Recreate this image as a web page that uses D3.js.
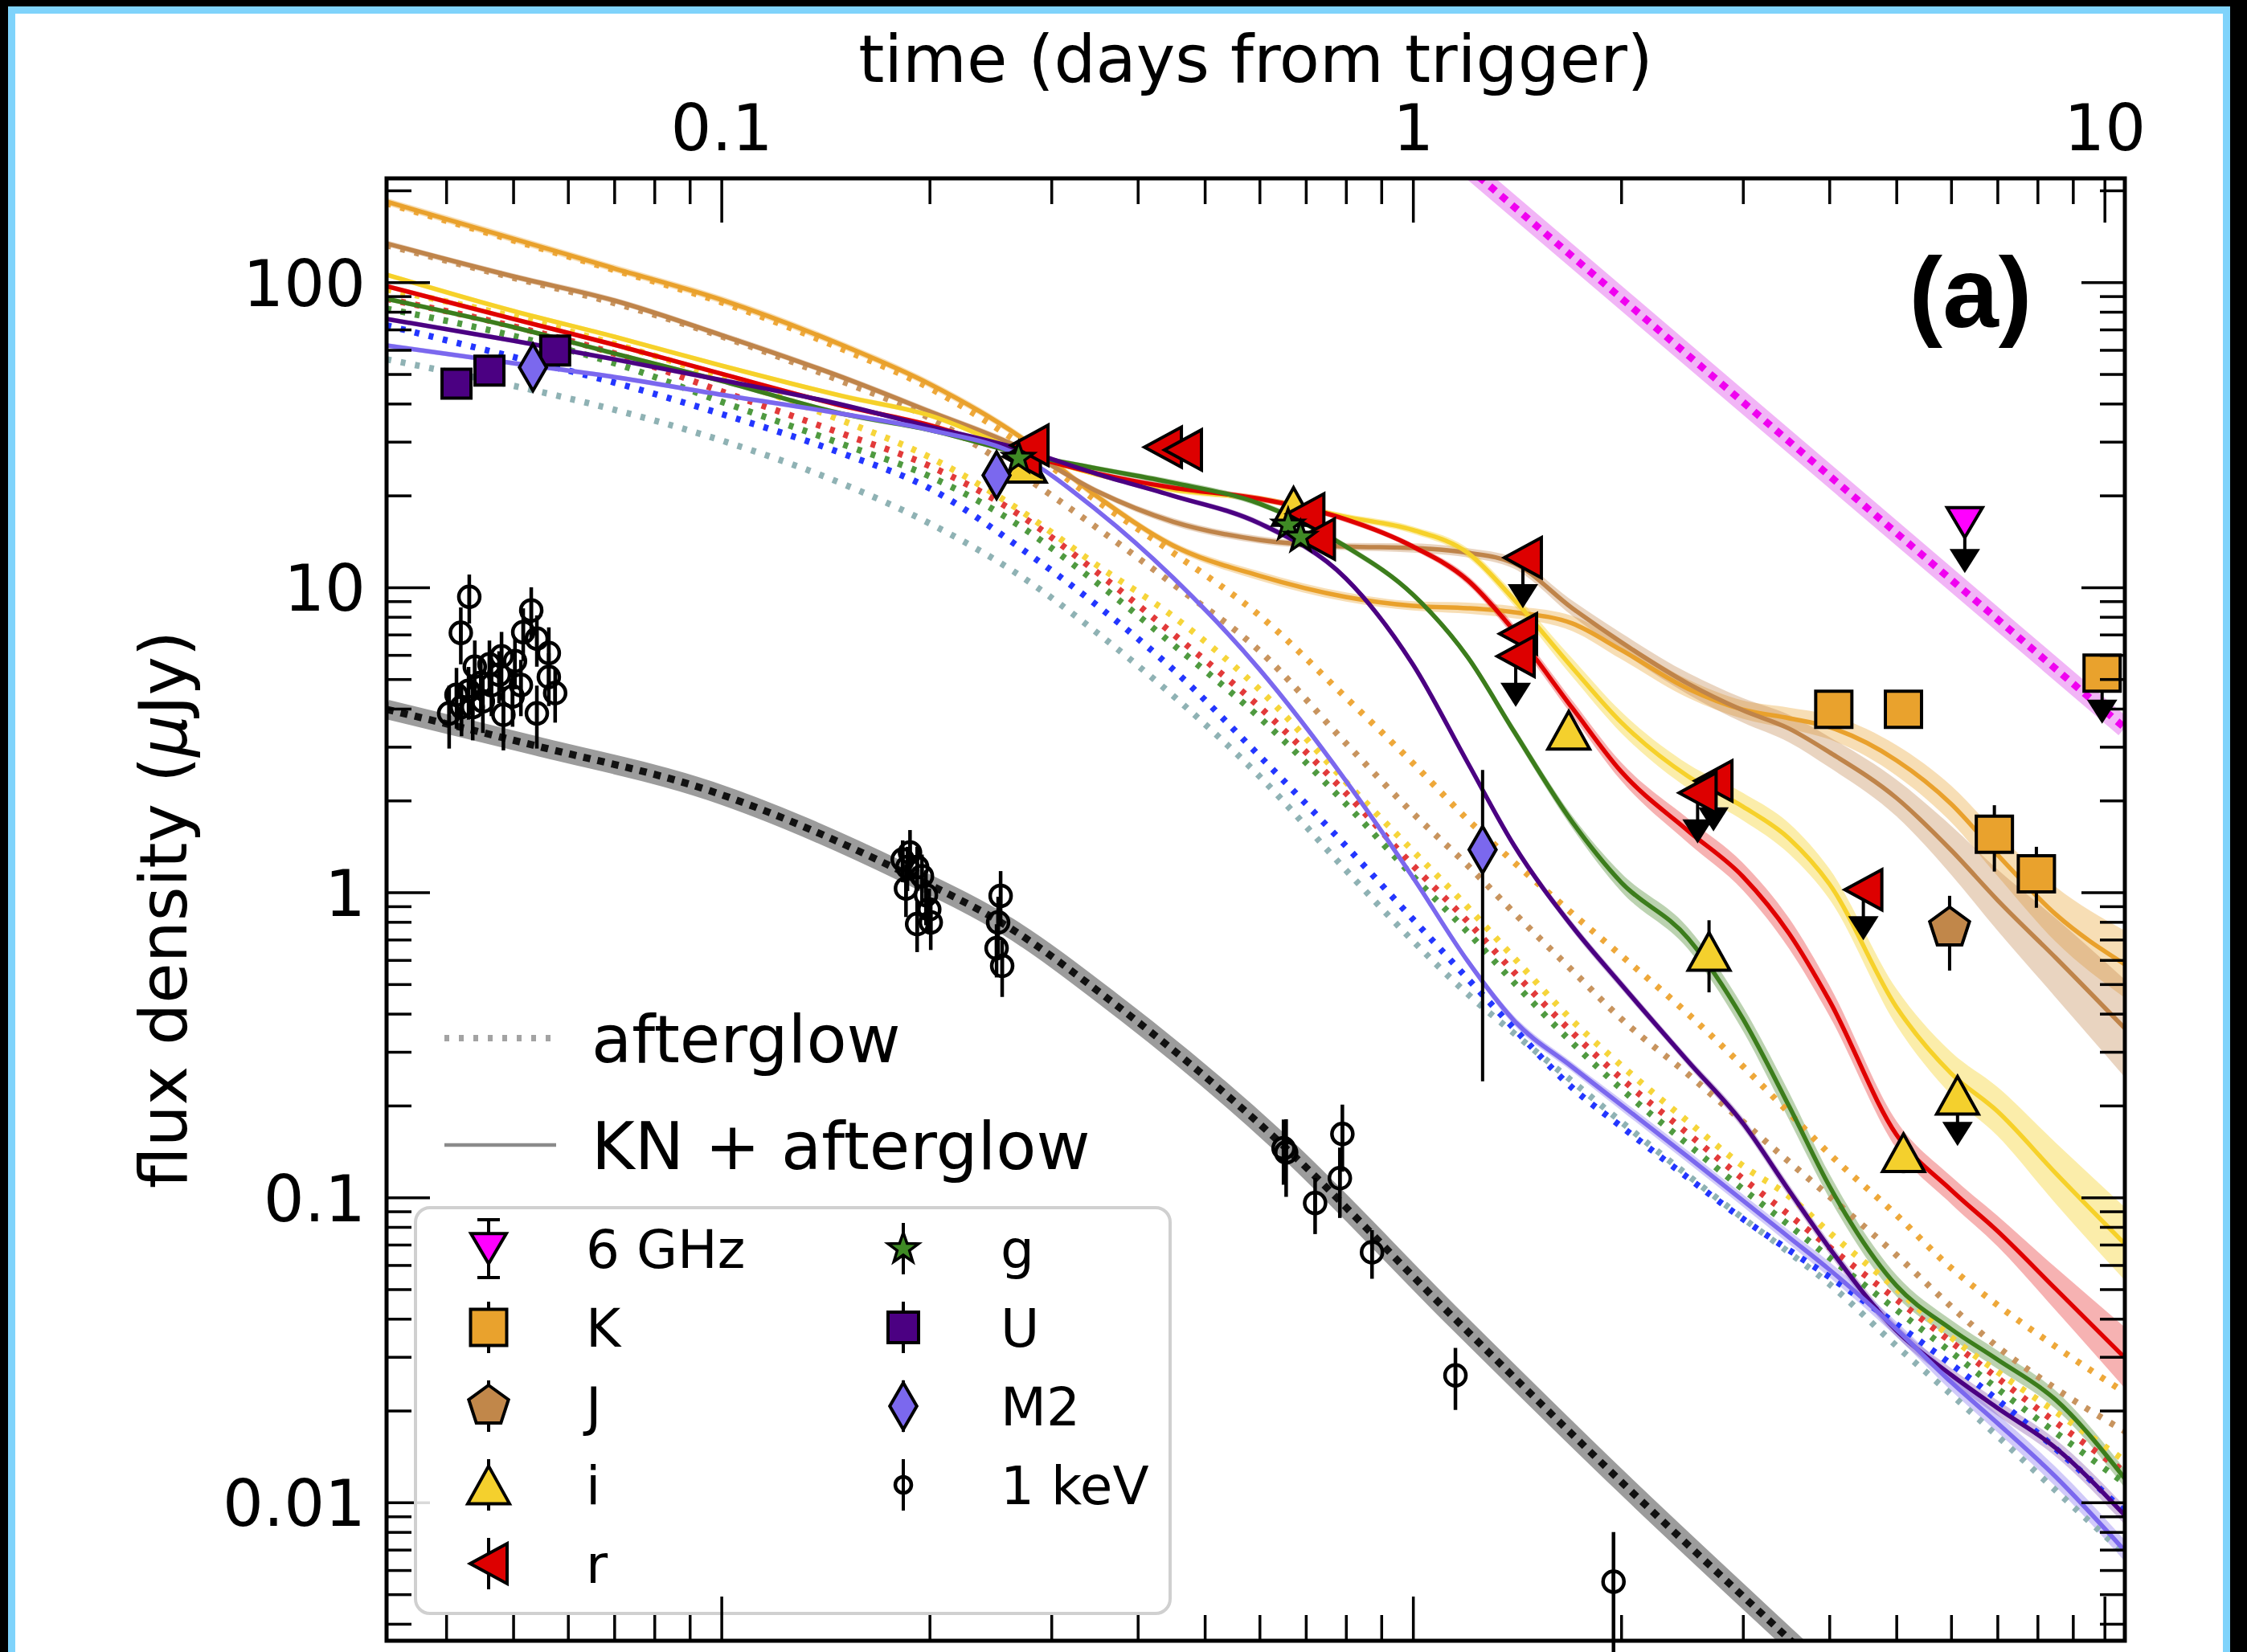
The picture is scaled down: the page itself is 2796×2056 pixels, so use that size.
<!DOCTYPE html>
<html><head><meta charset="utf-8">
<script src="https://cdn.jsdelivr.net/npm/d3@7"></script>
<style>html,body{margin:0;padding:0;background:#000;}svg{display:block;}</style>
</head><body>
<svg id="chart" width="2796" height="2056"></svg>
<script>
// ================= DATA =================
// time grid (days) on which the model curves were read
const modelTimes = [0.0328,0.05,0.07,0.1,0.15,0.2,0.27,0.35,0.45,0.6,0.8,1.0,1.2,1.4,1.7,2.0,2.5,3.0,3.5,4.0,5.0,6.0,7.0,8.5,10.7];

// KN + afterglow models (solid lines), flux density in microJy
const knK  = [183.7,138.9,111.0,87.6,62.0,46.4,31.2,19.8,13.7,10.9,9.29,8.69,8.54,8.28,7.61,6.23,4.65,3.97,3.72,3.48,2.71,1.95,1.33,0.847,0.581];
const knJ  = [134.0,104.5,87.1,67.1,48.7,37.7,28.7,20.6,16.4,14.3,13.6,13.45,12.97,11.99,8.54,6.61,4.83,3.95,3.44,2.88,2.04,1.375,0.944,0.610,0.358];
const knI  = [105.8,80.5,66.3,53.3,42.3,36.6,28.0,23.4,20.9,19.5,17.0,15.4,12.97,9.12,5.45,3.61,2.40,1.91,1.50,1.066,0.421,0.255,0.1915,0.120,0.0704];
const knR  = [97.1,75.8,62.4,50.1,39.3,34.0,27.5,23.6,21.2,19.5,16.7,13.6,10.55,7.20,4.02,2.49,1.59,1.126,0.732,0.442,0.1607,0.1057,0.0776,0.0501,0.0298];
const knG  = [88.2,71.3,58.4,47.5,37.0,32.8,27.5,24.5,22.0,18.8,13.6,9.46,5.90,3.37,1.70,1.079,0.706,0.385,0.1987,0.1090,0.0514,0.0370,0.0294,0.0217,0.01198];
const knU  = [75.8,64.3,55.9,47.8,39.6,33.6,28.4,23.5,19.95,16.2,10.68,5.58,2.66,1.426,0.773,0.4995,0.279,0.175,0.1051,0.0683,0.0366,0.0262,0.0204,0.01509,0.00907];
const knM2 = [62.0,54.3,48.9,42.8,37.0,32.8,27.0,17.8,10.75,5.38,2.32,1.119,0.595,0.380,0.2675,0.2010,0.1356,0.0977,0.0739,0.0580,0.0370,0.0248,0.0182,0.01213,0.00694];

// model uncertainty half-widths (dex)
const bandK  = [.012,.012,.012,.012,.012,.012,.012,.012,.012,.015,.015,.015,.018,.02,.025,.03,.03,.03,.035,.04,.05,.06,.07,.09,.11];
const bandJ  = [.01,.01,.01,.01,.01,.01,.01,.01,.012,.012,.012,.015,.015,.018,.025,.03,.035,.04,.045,.05,.06,.08,.1,.13,.16];
const bandI  = [.008,.008,.008,.008,.008,.008,.008,.008,.01,.01,.01,.012,.015,.02,.03,.035,.04,.045,.05,.05,.06,.07,.08,.1,.12];
const bandR  = [.008,.008,.008,.008,.008,.008,.008,.008,.01,.01,.01,.01,.015,.02,.025,.03,.04,.045,.05,.05,.045,.045,.05,.07,.1];
const bandG  = [.008,.008,.008,.008,.008,.008,.008,.008,.01,.01,.01,.01,.012,.015,.02,.03,.035,.04,.045,.04,.035,.03,.03,.03,.03];
const bandU  = [.008,.008,.008,.008,.008,.008,.008,.008,.008,.01,.01,.01,.01,.012,.015,.015,.015,.018,.02,.02,.02,.022,.025,.028,.03];
const bandM2 = [.008,.008,.008,.008,.008,.008,.008,.008,.01,.01,.01,.012,.012,.015,.015,.018,.02,.02,.022,.025,.025,.028,.03,.032,.035];

// afterglow-only models (dotted lines)
const agK    = [181.4,137.2,109.7,86.0,60.2,45.0,29.6,19.1,12.97,8.08,4.35,2.65,1.731,1.255,0.852,0.621,0.399,0.269,0.189,0.1389,0.0876,0.0587,0.0444,0.0324,0.0229];
const agJ    = [132.3,103.5,85.5,66.5,47.2,35.9,23.6,15.6,10.24,6.19,3.08,1.817,1.225,0.857,0.554,0.385,0.253,0.177,0.1307,0.1007,0.0647,0.0439,0.0324,0.0236,0.0171];
const agI    = [94.8,77.2,62.8,48.9,35.1,26.7,17.9,11.77,8.03,4.62,2.30,1.367,0.894,0.610,0.380,0.271,0.177,0.1268,0.1007,0.0767,0.0501,0.0348,0.0268,0.0198,0.01369];
const agR    = [88.2,71.7,58.4,43.9,31.8,24.97,17.25,11.15,7.03,4.05,2.115,1.225,0.802,0.547,0.347,0.2456,0.1616,0.1151,0.0876,0.0687,0.0463,0.0336,0.0256,0.0183,0.01258];
const agG    = [81.9,66.7,54.3,40.6,29.4,23.1,15.9,10.3,6.49,3.74,1.95,1.13,0.741,0.506,0.321,0.227,0.149,0.1064,0.0810,0.0635,0.0428,0.0311,0.0236,0.01693,0.01155];
const agU    = [72.2,56.9,46.9,37.0,27.4,21.1,13.5,8.69,5.38,2.80,1.418,0.816,0.521,0.358,0.2285,0.1708,0.1158,0.0850,0.0671,0.0549,0.0384,0.0284,0.0217,0.0150,0.00929];
const agM2   = [55.9,45.8,38.2,30.3,21.8,16.2,10.94,7.07,4.41,2.40,1.182,0.693,0.464,0.345,0.240,0.177,0.1179,0.0855,0.0659,0.0520,0.0326,0.0226,0.0165,0.01094,0.00678];

// radio (6 GHz) and X-ray (1 keV) afterglow models: [t, flux]
const radioModel = [[1.0,339],[10.7,3.46]];
const xrayModel  = [[0.0328,3.98],[0.054,3.02],[0.0964,2.15],[0.181,1.18],[0.26,0.77],[0.366,0.44],[0.631,0.157],[1.15,0.040],[2.0,0.0117],[3.52,0.00352],[4.5,0.0021]];

// observations: t (days), f (microJy), e (1-sigma), ul (upper limit)
const obs6GHz = [{t:6.28,f:16.3,ul:true}];
const obsK  = [{t:4.06,f:3.98,e:0.1},{t:5.12,f:3.98,e:0.1},{t:6.93,f:1.55,e:0.38},{t:7.97,f:1.15,e:0.26},{t:9.92,f:5.23,ul:true}];
const obsJ  = [{t:5.97,f:0.764,e:0.21}];
const obsI  = [{t:0.275,f:25.5,e:3.0},{t:0.672,f:18.4,e:1.0},{t:1.68,f:3.4,e:0.2},{t:2.68,f:0.64,e:0.17},{t:5.12,f:0.14,e:0.02},{t:6.13,f:0.216,ul:true}];
const obsR  = [{t:0.272,f:26.8,e:1},{t:0.279,f:29.2,e:1},{t:0.435,f:28.8,e:0.8},{t:0.465,f:28.2,e:0.8},{t:0.699,f:17.4,e:0.8},{t:0.724,f:14.4,e:0.8},
               {t:1.442,f:12.5,ul:true},{t:1.419,f:7.04,e:0.3},{t:1.408,f:5.94,ul:true},{t:2.72,f:2.32,ul:true},{t:2.58,f:2.12,ul:true},{t:4.48,f:1.02,ul:true}];
const obsG  = [{t:0.269,f:26.5,e:1},{t:0.66,f:16.0,e:1},{t:0.688,f:14.6,e:1}];
const obsU  = [{t:0.0414,f:46.5,e:3},{t:0.0462,f:51.3,e:3},{t:0.0575,f:59.7,e:4}];
const obsM2 = [{t:0.0534,f:52.6,e:4},{t:0.25,f:23.3,e:2},{t:1.261,f:1.38,e:1.14}];
const obsX  = [
  {t:0.0432,f:9.31,e:1.7},{t:0.0420,f:7.09,e:1.5},{t:0.0531,f:8.40,e:1.6},{t:0.0517,f:7.13,e:1.4},{t:0.0563,f:6.09,e:1.3},
  {t:0.0541,f:6.79,e:1.3},{t:0.0440,f:5.49,e:1.2},{t:0.0462,f:5.59,e:1.1},{t:0.0481,f:5.94,e:1.2},{t:0.0503,f:5.73,e:1.1},
  {t:0.0404,f:3.86,e:0.9},{t:0.0414,f:4.44,e:1.0},{t:0.0431,f:4.58,e:0.9},{t:0.0449,f:4.86,e:1.0},{t:0.0452,f:4.23,e:0.9},
  {t:0.0484,f:3.82,e:0.9},{t:0.0477,f:5.17,e:1.0},{t:0.0541,f:3.86,e:0.9},{t:0.0575,f:4.50,e:0.9},{t:0.0563,f:5.08,e:1.0},
  {t:0.0499,f:4.39,e:0.9},{t:0.0513,f:4.78,e:1.0},{t:0.0465,f:4.78,e:1.0},{t:0.0437,f:4.05,e:0.9},{t:0.0421,f:4.05,e:0.8},
  {t:0.1829,f:1.28,e:0.2},{t:0.1874,f:1.35,e:0.25},{t:0.1919,f:1.21,e:0.2},{t:0.195,f:1.13,e:0.2},{t:0.1849,f:1.03,e:0.2},
  {t:0.1919,f:0.787,e:0.15},{t:0.1998,f:0.879,e:0.15},{t:0.1976,f:0.98,e:0.2},{t:0.1858,f:1.21,e:0.2},{t:0.2008,f:0.797,e:0.15},
  {t:0.2534,f:0.974,e:0.2},{t:0.2513,f:0.797,e:0.17},{t:0.25,f:0.656,e:0.13},{t:0.2547,f:0.574,e:0.12},
  {t:0.65,f:0.145,e:0.035},{t:0.6556,f:0.1404,e:0.04},{t:0.722,f:0.0958,e:0.02},{t:0.7906,f:0.1614,e:0.04},{t:0.784,f:0.1156,e:0.03},
  {t:0.8726,f:0.0661,e:0.012},{t:1.152,f:0.0261,e:0.006},{t:1.95,f:0.0055,e:0.0025}
];

// axis ticks and labels
const xMajor = [0.1,1,10];
const xTickLabels = ["0.1","1","10"];
const xMinor = [0.04,0.05,0.06,0.07,0.08,0.09,0.2,0.3,0.4,0.5,0.6,0.7,0.8,0.9,2,3,4,5,6,7,8,9];
const yMajor = [0.01,0.1,1,10,100];
const yTickLabels = ["0.01","0.1","1","10","100"];
const yMinor = [0.004,0.005,0.006,0.007,0.008,0.009,0.02,0.03,0.04,0.05,0.06,0.07,0.08,0.09,0.2,0.3,0.4,0.5,0.6,0.7,0.8,0.9,2,3,4,5,6,7,8,9,20,30,40,50,60,70,80,90,200];

const legendLabels = ["6 GHz","K","J","i","r","g","U","M2","1 keV"];

// ================= CHART =================
const W = 2796, H = 2056;
const PL = 481, PR = 2644, PT = 222, PB = 2042;
const FONT = "'DejaVu Sans', 'Liberation Sans', sans-serif";
const svg = d3.select("#chart");

// screenshot frame
svg.append("rect").attr("width", W).attr("height", H).attr("fill", "#000");
svg.append("rect").attr("x", 10).attr("y", 8).attr("width", 2765).attr("height", 2070).attr("fill", "#7fd3fb");
svg.append("rect").attr("x", 19).attr("y", 17).attr("width", 2747).attr("height", 2060).attr("fill", "#fff");

const x = d3.scaleLog().domain([0.0328, 10.7]).range([PL, PR]);
const y = d3.scaleLog().domain([0.00352, 219]).range([PB, PT]);

svg.append("clipPath").attr("id", "plotclip").append("rect")
  .attr("x", PL).attr("y", PT).attr("width", PR - PL).attr("height", PB - PT);
const plot = svg.append("g").attr("clip-path", "url(#plotclip)");

const line = d3.line().x(d => x(d[0])).y(d => y(d[1])).curve(d3.curveMonotoneX);
const area = d3.area().x(d => x(d[0]))
  .y0(d => y(d[1] / Math.pow(10, d[2]))).y1(d => y(d[1] * Math.pow(10, d[2])))
  .curve(d3.curveMonotoneX);
const zipT = (vals, band) => modelTimes.map((t, i) => band ? [t, vals[i], band[i]] : [t, vals[i]]);

const models = [
  {kn: knK,  band: bandK,  ag: agK,  col: "#e9a12c", dcol: "#eea83a", bop: 0.35},
  {kn: knJ,  band: bandJ,  ag: agJ,  col: "#bf844a", dcol: "#c8945e", bop: 0.35},
  {kn: knI,  band: bandI,  ag: agI,  col: "#f6d12a", dcol: "#f6d53a", bop: 0.40},
  {kn: knR,  band: bandR,  ag: agR,  col: "#e00000", dcol: "#e23a3a", bop: 0.30},
  {kn: knG,  band: bandG,  ag: agG,  col: "#3c7d1c", dcol: "#4f9a40", bop: 0.35},
  {kn: knU,  band: bandU,  ag: agU,  col: "#4b0082", dcol: "#2336ff", bop: 0.25},
  {kn: knM2, band: bandM2, ag: agM2, col: "#7b68ee", dcol: "#8fb2b4", bop: 0.35}
];

// bands
models.forEach(m => {
  plot.append("path").attr("d", area(zipT(m.kn, m.band)))
    .attr("fill", m.col).attr("fill-opacity", m.bop).attr("stroke", "none");
});
// afterglow dotted
models.forEach(m => {
  plot.append("path").attr("d", line(zipT(m.ag)))
    .attr("fill", "none").attr("stroke", m.dcol).attr("stroke-width", 8)
    .attr("stroke-dasharray", "6 12");
});
// KN + afterglow solid
models.forEach(m => {
  plot.append("path").attr("d", line(zipT(m.kn)))
    .attr("fill", "none").attr("stroke", m.col).attr("stroke-width", 5.5);
});

// radio model
plot.append("path").attr("d", line(radioModel)).attr("fill", "none")
  .attr("stroke", "#f1b5f6").attr("stroke-width", 24);
plot.append("path").attr("d", line(radioModel)).attr("fill", "none")
  .attr("stroke", "#f000f0").attr("stroke-width", 9).attr("stroke-dasharray", "9 9");
// X-ray model
plot.append("path").attr("d", line(xrayModel)).attr("fill", "none")
  .attr("stroke", "#9c9c9c").attr("stroke-width", 24);
plot.append("path").attr("d", line(xrayModel)).attr("fill", "none")
  .attr("stroke", "#111").attr("stroke-width", 9).attr("stroke-dasharray", "9 9");

// ---------- marker shapes ----------
function shapePath(shape, s) {
  switch (shape) {
    case "square": return `M${-s/2},${-s/2}h${s}v${s}h${-s}Z`;
    case "triUp": { const w = s, h = s * 0.9; return `M0,${-h/2}L${w/2},${h/2}L${-w/2},${h/2}Z`; }
    case "triDown": { const w = s, h = s * 0.85; return `M0,${h/2}L${w/2},${-h/2}L${-w/2},${-h/2}Z`; }
    case "triLeft": { const w = s * 0.92, h = s; return `M${-w/2},0L${w/2},${-h/2}L${w/2},${h/2}Z`; }
    case "pent": {
      const r = s / 2; let p = "";
      for (let k = 0; k < 5; k++) { const a = -Math.PI/2 + k * 2*Math.PI/5; p += (k ? "L" : "M") + (r*Math.cos(a)).toFixed(2) + "," + (r*Math.sin(a)).toFixed(2); }
      return p + "Z";
    }
    case "star": {
      const R = s / 2, r = R * 0.4; let p = "";
      for (let k = 0; k < 10; k++) { const a = -Math.PI/2 + k * Math.PI/5, rr = k % 2 ? r : R; p += (k ? "L" : "M") + (rr*Math.cos(a)).toFixed(2) + "," + (rr*Math.sin(a)).toFixed(2); }
      return p + "Z";
    }
    case "thinDiamond": { const w = s * 0.58, h = s; return `M0,${-h/2}L${w/2},0L0,${h/2}L${-w/2},0Z`; }
    case "circle": { const r = s / 2; return `M${r},0A${r},${r} 0 1,1 ${-r},0A${r},${r} 0 1,1 ${r},0Z`; }
  }
}

const series = [
  {data: obs6GHz, shape: "triDown",     size: 44, fill: "#ff00ff", sw: 4},
  {data: obsK,    shape: "square",      size: 45, fill: "#e9a22d", sw: 4},
  {data: obsJ,    shape: "pent",        size: 52, fill: "#c1874a", sw: 4},
  {data: obsI,    shape: "triUp",       size: 52, fill: "#f4d02d", sw: 4},
  {data: obsR,    shape: "triLeft",     size: 50, fill: "#dd0000", sw: 4},
  {data: obsG,    shape: "star",        size: 40, fill: "#3f8a25", sw: 3.5},
  {data: obsU,    shape: "square",      size: 36, fill: "#4b0082", sw: 4},
  {data: obsM2,   shape: "thinDiamond", size: 58, fill: "#7b68ee", sw: 4},
  {data: obsX,    shape: "circle",      size: 26, fill: "none",    sw: 4.5}
];

const marks = svg.append("g");
series.forEach(s => {
  const g = marks.append("g");
  const ew = s.shape === "circle" ? 4.5 : 4;
  s.data.forEach(d => {
    const cx = x(d.t), cy = y(d.f);
    if (d.ul) {
      g.append("line").attr("x1", cx).attr("x2", cx).attr("y1", cy).attr("y2", cy + 40)
        .attr("stroke", "#000").attr("stroke-width", 4);
      g.append("path").attr("d", `M${cx-19},${cy+33}L${cx+19},${cy+33}L${cx},${cy+63}Z`).attr("fill", "#000");
    } else if (d.e) {
      const lo = Math.max(d.f - d.e, 0.0001);
      g.append("line").attr("x1", cx).attr("x2", cx).attr("y1", y(d.f + d.e)).attr("y2", y(lo))
        .attr("stroke", "#000").attr("stroke-width", ew);
    }
    g.append("path").attr("d", shapePath(s.shape, s.size)).attr("transform", `translate(${cx},${cy})`)
      .attr("fill", s.fill).attr("stroke", "#000").attr("stroke-width", s.sw).attr("stroke-linejoin", "miter");
    if (s.shape === "circle") {
      g.append("line").attr("x1", cx).attr("x2", cx).attr("y1", cy - 13).attr("y2", cy + 13)
        .attr("stroke", "#000").attr("stroke-width", ew);
    }
  });
});

// ---------- axes ----------
function styleAxis(g) {
  g.select(".domain").remove();
  g.selectAll(".tick line").attr("stroke", "#000").attr("stroke-width", 3.5);
  g.selectAll(".tick text").attr("font-family", FONT).attr("font-size", 80).attr("fill", "#000");
}
svg.append("g").attr("transform", `translate(0,${PT})`)
  .call(d3.axisTop(x).tickValues(xMajor).tickFormat((d, i) => xTickLabels[i]).tickSizeInner(-55).tickSizeOuter(0).tickPadding(35))
  .call(styleAxis);
svg.append("g").attr("transform", `translate(0,${PT})`)
  .call(d3.axisTop(x).tickValues(xMinor).tickFormat(() => "").tickSizeInner(-32).tickSizeOuter(0)).call(styleAxis);
svg.append("g").attr("transform", `translate(${PL},0)`)
  .call(d3.axisLeft(y).tickValues(yMajor).tickFormat((d, i) => yTickLabels[i]).tickSizeInner(-54).tickSizeOuter(0).tickPadding(26))
  .call(styleAxis).call(g => g.selectAll(".tick text").attr("dy", "0.36em"));
svg.append("g").attr("transform", `translate(${PL},0)`)
  .call(d3.axisLeft(y).tickValues(yMinor).tickFormat(() => "").tickSizeInner(-31).tickSizeOuter(0)).call(styleAxis);
svg.append("g").attr("transform", `translate(${PR},0)`)
  .call(d3.axisRight(y).tickValues(yMajor).tickFormat(() => "").tickSizeInner(-54).tickSizeOuter(0)).call(styleAxis);
svg.append("g").attr("transform", `translate(${PR},0)`)
  .call(d3.axisRight(y).tickValues(yMinor).tickFormat(() => "").tickSizeInner(-31).tickSizeOuter(0)).call(styleAxis);

// axis titles
svg.append("text").attr("x", (PL + PR) / 2).attr("y", 102).attr("text-anchor", "middle")
  .attr("font-family", FONT).attr("font-size", 82).text("time (days from trigger)");
const yt = svg.append("text").attr("transform", `translate(232,${(PT + PB) / 2}) rotate(-90)`).attr("text-anchor", "middle")
  .attr("font-family", FONT).attr("font-size", 82);
yt.append("tspan").text("flux density (");
yt.append("tspan").attr("font-style", "italic").text("μ");
yt.append("tspan").text("Jy)");

// panel label
svg.append("text").attr("x", 2452).attr("y", 407).attr("text-anchor", "middle")
  .attr("font-family", "'Liberation Sans', Arial, sans-serif").attr("font-weight", "bold").attr("font-size", 125).text("(a)");

// ---------- line-style legend ----------
const ll = svg.append("g");
ll.append("line").attr("x1", 553).attr("x2", 692).attr("y1", 1292).attr("y2", 1292)
  .attr("stroke", "#a3a3a3").attr("stroke-width", 8).attr("stroke-dasharray", "6 12");
ll.append("text").attr("x", 736).attr("y", 1322).attr("font-family", FONT).attr("font-size", 82).text("afterglow");
ll.append("line").attr("x1", 553).attr("x2", 692).attr("y1", 1425).attr("y2", 1425)
  .attr("stroke", "#8a8a8a").attr("stroke-width", 4.5);
ll.append("text").attr("x", 736).attr("y", 1455).attr("font-family", FONT).attr("font-size", 82).text("KN + afterglow");

// ---------- marker legend ----------
const lg = svg.append("g");
lg.append("rect").attr("x", 517).attr("y", 1503).attr("width", 939).attr("height", 505).attr("rx", 18)
  .attr("fill", "#fff").attr("fill-opacity", 0.85).attr("stroke", "#d0d0d0").attr("stroke-width", 4);
const rowsY = [1554, 1652, 1750, 1848, 1946];
series.forEach((s, i) => {
  const col = i < 5 ? 0 : 1, row = i < 5 ? i : i - 5;
  const mx = col ? 1124 : 608, tx = col ? 1245 : 729, cy = rowsY[row];
  const barH = s.shape === "triDown" ? 36 : 32;
  lg.append("line").attr("x1", mx).attr("x2", mx).attr("y1", cy - barH).attr("y2", cy + barH)
    .attr("stroke", "#000").attr("stroke-width", 4);
  if (s.shape === "triDown") {
    [cy - barH, cy + barH].forEach(cyy => lg.append("line").attr("x1", mx - 14).attr("x2", mx + 14)
      .attr("y1", cyy).attr("y2", cyy).attr("stroke", "#000").attr("stroke-width", 4));
  }
  const sz = s.shape === "circle" ? 20 : s.shape === "square" && s.size < 40 ? 38 : s.size;
  lg.append("path").attr("d", shapePath(s.shape, sz)).attr("transform", `translate(${mx},${cy})`)
    .attr("fill", s.fill).attr("stroke", "#000").attr("stroke-width", s.sw);
  lg.append("text").attr("x", tx).attr("y", cy + 24).attr("font-family", FONT).attr("font-size", 66)
    .text(legendLabels[i]);
});

// bottom axis ticks drawn last so they sit above the legend frame
svg.append("g").attr("transform", `translate(0,${PB})`)
  .call(d3.axisBottom(x).tickValues(xMajor).tickFormat(() => "").tickSizeInner(-55).tickSizeOuter(0)).call(styleAxis);
svg.append("g").attr("transform", `translate(0,${PB})`)
  .call(d3.axisBottom(x).tickValues(xMinor).tickFormat(() => "").tickSizeInner(-32).tickSizeOuter(0)).call(styleAxis);

svg.append("rect").attr("x", PL).attr("y", PT).attr("width", PR - PL).attr("height", PB - PT)
  .attr("fill", "none").attr("stroke", "#000").attr("stroke-width", 5);
</script>
</body></html>
